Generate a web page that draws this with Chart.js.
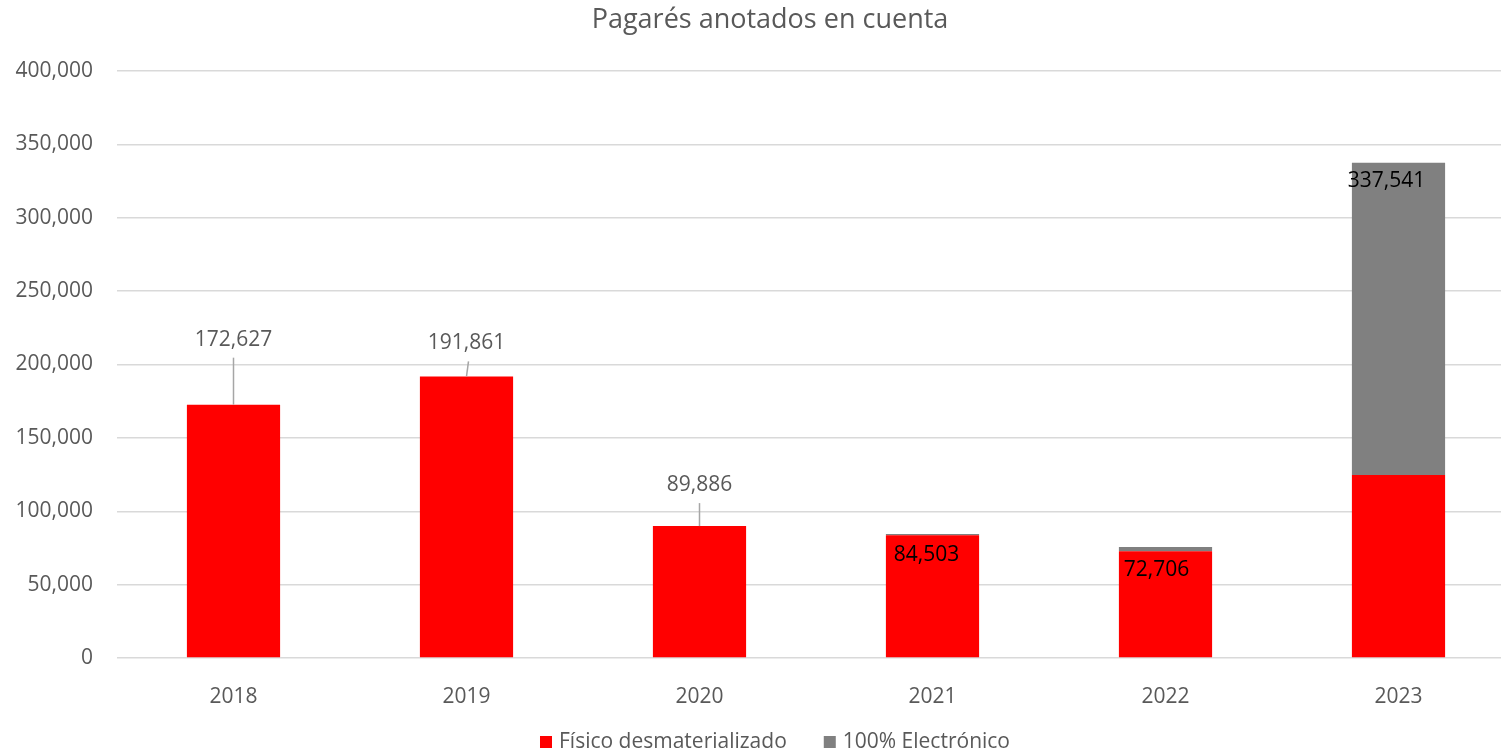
<!DOCTYPE html>
<html lang="es">
<head>
    <meta charset="UTF-8">
    <title>Pagarés anotados en cuenta</title>
    <script src="https://cdn.jsdelivr.net/npm/chart.js"></script>
    <style>
        html, body { margin: 0; padding: 0; background: #ffffff; overflow: hidden; }
        #caja { width: 1540px; height: 755px; }
    </style>
</head>
<body>
    <div id="caja"><canvas id="grafico" width="1540" height="755"></canvas></div>

<script>
    // Datos
    const anos = ["2018", "2019", "2020", "2021", "2022", "2023"];
    const fisico = [172627, 191861, 89886, 83700, 72706, 124700];
    const electronico = [0, 0, 0, 803, 3000, 212841];
    const rotulos = [172627, 191861, 89886, 84503, 72706, 337541];
    const ticksY = [0, 50000, 100000, 150000, 200000, 250000, 300000, 350000, 400000];

    const fuente = "'Open Sans', 'DejaVu Sans', sans-serif";
    const cinza = "#595959";

    function formatar(v) {
        return Number(v).toLocaleString("en-US");
    }

    // titulo, leyenda y etiquetas dibujados a mano
    const extras = {
        id: "extras",
        afterDraw(chart, args, opts) {
            const ctx = chart.ctx;
            ctx.save();

            // titulo
            ctx.fillStyle = cinza;
            ctx.font = "27px " + fuente;
            ctx.textAlign = "center";
            ctx.textBaseline = "middle";
            ctx.fillText(opts.titulo, opts.tituloX, 20);

            // leyenda
            ctx.font = "21px " + fuente;
            ctx.textAlign = "left";
            let larguras = opts.legenda.map(l => 12 + 7 + ctx.measureText(l.texto).width);
            let total = larguras.reduce((a, b) => a + b, 0) + 37 * (opts.legenda.length - 1);
            let x = opts.legendaX - total / 2;
            opts.legenda.forEach((l, i) => {
                ctx.fillStyle = l.cor;
                ctx.fillRect(x, 736, 12, 12);
                ctx.fillStyle = cinza;
                ctx.fillText(l.texto, x + 19, 742);
                x += larguras[i] + 37;
            });

            // etiquetas de datos
            const sx = chart.scales.x;
            const sy = chart.scales.y;
            ctx.font = "21px " + fuente;
            ctx.textAlign = "center";
            for (let i = 0; i < anos.length; i++) {
                const cfg = opts.etiquetas[i];
                const cx = sx.getPixelForValue(i);
                const topo = sy.getPixelForValue(fisico[i] + electronico[i]);
                const ty = topo + cfg.dy;
                if (cfg.fora) {
                    ctx.fillStyle = cinza;
                    ctx.fillText(formatar(rotulos[i]), cx + cfg.dx, ty);
                    ctx.strokeStyle = "#a6a6a6";
                    ctx.lineWidth = 1.5;
                    ctx.beginPath();
                    ctx.moveTo(cx + cfg.linhaDx, ty + 18);
                    ctx.lineTo(cx, topo);
                    ctx.stroke();
                } else {
                    ctx.fillStyle = "#000000";
                    ctx.fillText(formatar(rotulos[i]), cx + cfg.dx, ty);
                }
            }
            ctx.restore();
        }
    };

    const dados = {
        labels: anos,
        datasets: [
            {
                label: "Físico desmaterializado",
                data: fisico,
                backgroundColor: "#ff0000",
                borderWidth: 0,
            },
            {
                label: "100% Electrónico",
                data: electronico,
                backgroundColor: "#808080",
                borderWidth: 0,
            },
        ],
    };

    const config = {
        type: "bar",
        data: dados,
        options: {
            responsive: false,
            animation: false,
            devicePixelRatio: 1,
            categoryPercentage: 1,
            barPercentage: 0.4,
            layout: { padding: { top: 71, right: 25, left: 0, bottom: 0 } },
            scales: {
                x: {
                    stacked: true,
                    grid: { display: false },
                    border: { display: false },
                    ticks: { color: cinza, font: { family: fuente, size: 21 }, padding: 18 },
                    afterFit(scale) { scale.height = 97; },
                },
                y: {
                    stacked: true,
                    min: 0,
                    max: 400000,
                    grid: { color: "#d9d9d9", lineWidth: 1.5, drawTicks: false },
                    border: { display: false },
                    afterBuildTicks(scale) { scale.ticks = ticksY.map(v => ({ value: v })); },
                    ticks: {
                        color: cinza,
                        font: { family: fuente, size: 21 },
                        padding: 24,
                        callback: (v) => formatar(v),
                    },
                    afterFit(scale) { scale.width = 117; },
                },
            },
            plugins: {
                legend: { display: false },
                title: { display: false },
                tooltip: { enabled: false },
                extras: {
                    titulo: "Pagarés anotados en cuenta",
                    tituloX: 770,
                    legendaX: 775,
                    legenda: [
                        { texto: "Físico desmaterializado", cor: "#ff0000" },
                        { texto: "100% Electrónico", cor: "#808080" },
                    ],
                    etiquetas: [
                        { fora: true, dy: -65, dx: 0, linhaDx: 0 },
                        { fora: true, dy: -33, dx: 0, linhaDx: 2 },
                        { fora: true, dy: -41, dx: 0, linhaDx: 0 },
                        { fora: false, dy: 21, dx: -6 },
                        { fora: false, dy: 23, dx: -9 },
                        { fora: false, dy: 18, dx: -12 },
                    ],
                },
            },
        },
        plugins: [extras],
    };

    var meuGrafico = new Chart(document.getElementById("grafico"), config);
</script>
</body>
</html>
